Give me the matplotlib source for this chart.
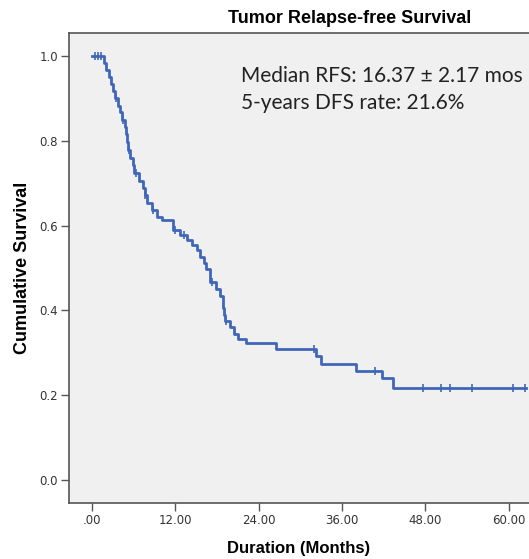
import matplotlib
matplotlib.use("Agg")
import matplotlib.pyplot as plt
import numpy as np

# event times (months) and survival after each event
event_t = [1.7, 2.0, 2.4, 2.7, 3.0, 3.3, 3.7, 4.0, 4.3, 4.7, 4.9, 5.0, 5.2, 5.5,
           5.9, 6.0, 6.7, 7.3, 7.6, 7.9, 8.6, 9.3, 10.1, 11.6, 12.6, 13.7, 14.4,
           15.1, 15.6, 16.1, 16.4, 17.0, 17.9, 18.4, 18.8, 18.9, 19.0, 19.1, 19.8,
           20.4, 21.0, 22.2, 26.5, 32.2, 32.9, 38.0, 41.7, 43.3]
event_s = [.983, .967, .950, .933, .917, .900, .883, .867, .850, .833, .815, .797,
           .779, .760, .742, .724, .706, .688, .671, .654, .637, .620, .612, .590,
           .578, .566, .554, .542, .527, .512, .497, .467, .450, .435, .420, .405,
           .390, .375, .360, .345, .333, .324, .309, .292, .274, .257, .240, .217]
censor_t = [0.5, 0.9, 1.3, 3.5, 4.5, 5.3, 6.3, 7.6, 8.8, 12.0, 13.3, 17.3, 19.3,
            31.9, 40.7, 47.7, 50.2, 51.6, 54.7, 60.6, 62.3]
end_t = 62.4

def surv_at(t):
    s = 1.0
    for ti, si in zip(event_t, event_s):
        if ti <= t:
            s = si
    return s

xs = [0.0] + event_t + [end_t]
ys = [1.0] + event_s + [event_s[-1]]

fig = plt.figure(figsize=(5.29, 5.59), dpi=100)
ax = fig.add_axes([0.1304, 0.1002, 0.8696, 0.8408])
ax.set_facecolor('#f0f0f0')
blue = '#3f67b8'
ax.step(xs, ys, where='post', color=blue, lw=2)
ax.plot(censor_t, [surv_at(t) for t in censor_t], ls='none', marker='|',
        ms=6, mew=1.2, color=blue)

ax.set_xlim(-3.31, 62.9)
ax.set_ylim(-0.054, 1.054)
ax.set_xticks([0, 12, 24, 36, 48, 60])
ax.set_xticklabels(['.00', '12.00', '24.00', '36.00', '48.00', '60.00'])
ax.set_yticks([0, 0.2, 0.4, 0.6, 0.8, 1.0])
ax.set_yticklabels(['0.0', '0.2', '0.4', '0.6', '0.8', '1.0'])
for sp in ['left', 'bottom', 'top']:
    ax.spines[sp].set_color('#555555')
    ax.spines[sp].set_linewidth(1.2)
ax.spines['right'].set_visible(False)
ax.tick_params(direction='out', length=6, width=1, color='#555555',
               labelsize=8.5, labelcolor='#333333', pad=2)

ax.set_title('Tumor Relapse-free Survival', fontsize=13, fontweight='bold',
             family='Liberation Sans', pad=7, x=0.61)
ax.set_xlabel('Duration (Months)', fontsize=12, fontweight='bold',
              family='Liberation Sans', labelpad=10)
ax.set_ylabel('Cumulative Survival', fontsize=13, fontweight='bold',
              family='Liberation Sans', labelpad=6)

ax.text(0.375, 0.93, 'Median RFS: 16.37 \u00b1 2.17 mos\n5-years DFS rate: 21.6%',
        transform=ax.transAxes, fontsize=15, family='Lato', va='top',
        linespacing=1.45, color='#222222')

fig.savefig('out.png', dpi=100)
